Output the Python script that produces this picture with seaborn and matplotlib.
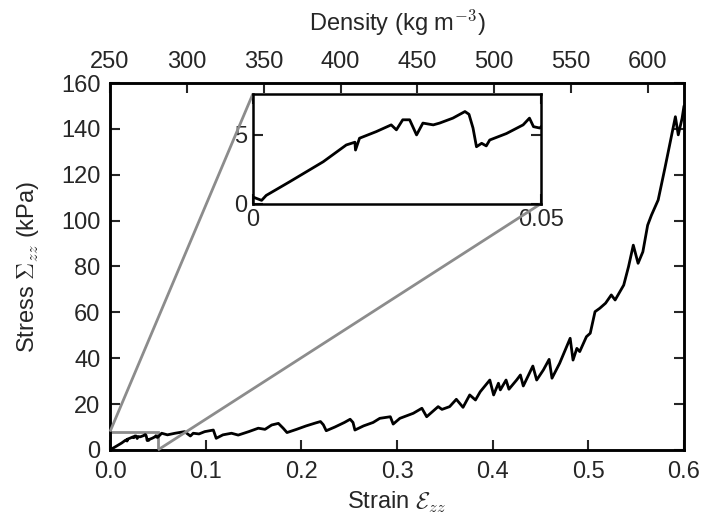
import matplotlib
matplotlib.use("Agg")
import matplotlib.pyplot as plt
import seaborn as sns
from mpl_toolkits.axes_grid1.inset_locator import mark_inset

# strain / stress curve
strain = [0.0, 0.0015, 0.0023, 0.0064, 0.0122, 0.0162, 0.0177, 0.0178, 0.0185,
          0.0214, 0.024, 0.0249, 0.026, 0.0272, 0.0284, 0.0295, 0.0313, 0.0324,
          0.0347, 0.0368, 0.0375, 0.0382, 0.0388, 0.0397, 0.0405, 0.0411, 0.044,
          0.0469, 0.048, 0.0487, 0.0498,
          0.054, 0.06, 0.068, 0.078, 0.084, 0.087, 0.093, 0.099, 0.108, 0.111,
          0.118, 0.127, 0.134, 0.145, 0.155, 0.162, 0.169, 0.176, 0.181, 0.185,
          0.195, 0.205, 0.215, 0.22, 0.223, 0.226, 0.235, 0.245, 0.251, 0.254,
          0.256, 0.265, 0.275, 0.282, 0.293, 0.296, 0.303, 0.317, 0.326, 0.331,
          0.343, 0.347, 0.355, 0.362, 0.369, 0.376, 0.382, 0.387, 0.397, 0.401,
          0.406, 0.408, 0.414, 0.417, 0.425, 0.429, 0.432, 0.442, 0.446, 0.453,
          0.459, 0.462, 0.47, 0.481, 0.484, 0.488, 0.491, 0.498, 0.502, 0.507,
          0.512, 0.518, 0.524, 0.528, 0.537, 0.542, 0.547, 0.552, 0.557, 0.562,
          0.566, 0.573, 0.58, 0.585, 0.591, 0.594, 0.598, 0.6]
stress = [0.48, 0.24, 0.6, 1.6, 3.05, 4.27, 4.47, 3.9, 4.76,
          5.24, 5.73, 5.37, 6.1, 6.1, 5.0, 5.86, 5.73, 5.86,
          6.22, 6.7, 6.5, 5.5, 4.14, 4.39, 4.2, 4.63, 5.1,
          5.73, 6.22, 5.6, 5.5,
          7.3, 6.6, 7.3, 8.0, 6.1, 7.3, 7.0, 8.0, 8.7, 5.1,
          6.6, 7.3, 6.5, 8.0, 9.5, 9.0, 10.9, 11.6, 9.5, 7.6,
          9.0, 10.5, 11.8, 12.4, 11.0, 8.4, 10.0, 12.0, 13.4, 12.0,
          8.7, 10.5, 12.0, 13.8, 14.5, 11.3, 13.8, 16.0, 18.2, 14.5,
          18.9, 17.7, 18.9, 22.1, 18.6, 24.0, 21.8, 25.4, 30.5, 24.0,
          29.1, 26.2, 30.5, 26.5, 30.5, 32.7, 27.9, 36.6, 30.5, 34.9,
          39.5, 31.3, 37.8, 48.7, 39.2, 44.3, 42.9, 49.4, 50.9, 60.3,
          61.8, 64.0, 67.6, 65.4, 71.9, 79.9, 89.3, 81.4, 86.4, 98.0,
          102.4, 109.0, 122.8, 133.0, 145.3, 137.4, 144.6, 150.0]

strain_ticks = [0.0, 0.1, 0.2, 0.3, 0.4, 0.5, 0.6]
stress_ticks = [0, 20, 40, 60, 80, 100, 120, 140, 160]
density_ticks = [250, 300, 350, 400, 450, 500, 550, 600]
density_lim = (250, 623.5)
zoom_strain = (0, 0.05)
zoom_stress = (0, 8)

FS = 17

sns.set_style("ticks")
plt.rcParams["font.family"] = ["Liberation Sans", "DejaVu Sans"]
plt.rcParams["mathtext.fontset"] = "cm"
plt.rcParams["font.size"] = FS

fig = plt.figure(figsize=(7.08, 5.23), dpi=100)
fig.patch.set_facecolor("white")
ax = fig.add_axes([0.1554, 0.1396, 0.8107, 0.7017])

sns.lineplot(x=strain, y=stress, ax=ax, color="black", lw=2.0,
             estimator=None, sort=False)
ax.set_xlim(0, 0.6)
ax.set_ylim(0, 160)
ax.set_xticks(strain_ticks)
ax.set_xticklabels([f"{t:.1f}" for t in strain_ticks])
ax.set_yticks(stress_ticks)
ax.set_xlabel(r"Strain $\mathcal{E}_{zz}$", fontsize=FS, labelpad=5)
ax.set_ylabel(r"Stress $\Sigma_{zz}$ (kPa)", fontsize=FS, labelpad=14)
ax.tick_params(direction="in", length=7, width=1.5, labelsize=FS,
               right=True, top=False)
ax.tick_params(axis="x", pad=8)
ax.tick_params(axis="y", pad=7)
for s in ax.spines.values():
    s.set_linewidth(1.8)
    s.set_color("black")

# density on top
top = ax.twiny()
top.set_xlim(*density_lim)
top.set_xticks(density_ticks)
top.tick_params(direction="in", length=7, width=1.5, labelsize=FS, pad=7.5)
top.set_xlabel(r"Density (kg m$^{-3}$)", fontsize=FS, labelpad=14)
for s in top.spines.values():
    s.set_linewidth(1.8)
    s.set_color("black")

# inset
ins = fig.add_axes([0.3573, 0.6106, 0.4068, 0.2103])
sns.lineplot(x=strain, y=stress, ax=ins, color="black", lw=2.0,
             estimator=None, sort=False)
ins.set_xlim(*zoom_strain)
ins.set_ylim(*zoom_stress)
ins.set_xticks([0, 0.05])
ins.set_xticklabels(["0", "0.05"])
ins.set_yticks([0, 5])
ins.set_yticklabels(["0", "5"])
ins.set_xlabel("")
ins.set_ylabel("")
ins.tick_params(direction="in", length=7, width=1.5, labelsize=FS,
                right=True, top=True, pad=4)
for s in ins.spines.values():
    s.set_linewidth(1.8)
    s.set_color("black")

mark_inset(ax, ins, loc1=2, loc2=4, fc="none", ec="0.55", lw=2)

fig.savefig("out.png", dpi=100, facecolor="white")
